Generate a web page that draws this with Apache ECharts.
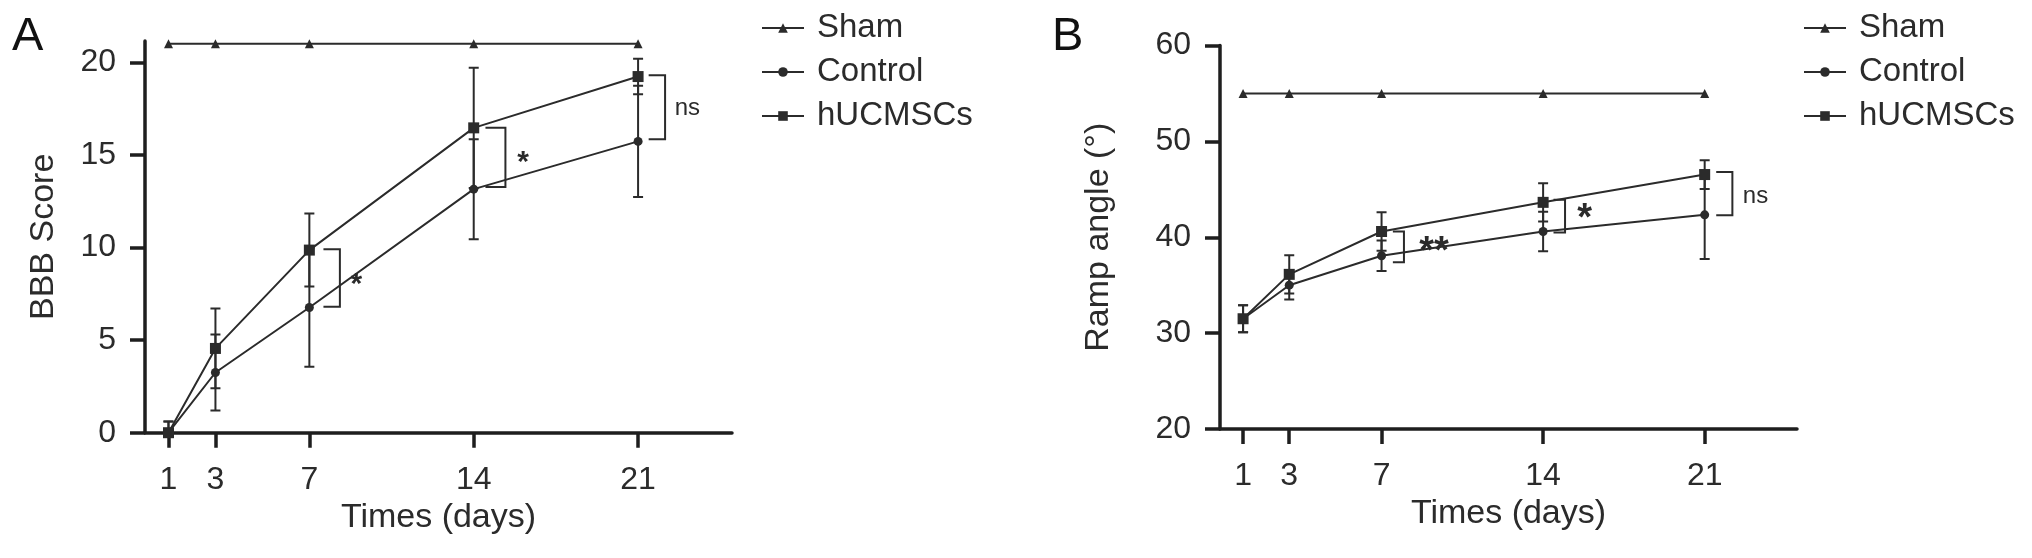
<!DOCTYPE html>
<html>
<head>
<meta charset="utf-8">
<script src="https://cdn.jsdelivr.net/npm/echarts@6/dist/echarts.min.js"></script>
<style>
html,body{margin:0;padding:0;background:#fff;}
#chart{width:2032px;height:558px;}
</style>
</head>
<body>
<div id="chart"></div>
<script>
// ---------- data ----------
const days = [1, 3, 7, 14, 21];
const seriesNames = ['Sham', 'Control', 'hUCMSCs'];

// Panel A: BBB score
const bbbSham = [21, 21, 21, 21, 21];
const bbbControl = [0, 3.25, 6.76, 13.15, 15.73];
const bbbControlErr = [0.6, 2.05, 3.2, 2.7, 3.0];
const bbbHuc = [0, 4.55, 9.86, 16.46, 19.23];
const bbbHucErr = [0.6, 2.15, 1.97, 3.25, 0.96];
const bbbTicks = [0, 5, 10, 15, 20];
// significance brackets: [xStart, xEnd, yTop, yBottom]
const bbbBrackets = [[7.6, 8.3, 9.9, 6.8], [14.5, 15.35, 16.46, 13.26], [21.45, 22.15, 19.3, 15.85]];
// labels: [x, y, text]
const bbbSigLabels = [[9.0, 8.0, '*'], [16.1, 14.6, '*'], [23.1, 17.5, 'ns']];

// Panel B: ramp angle
const rampSham = [55, 55, 55, 55, 55];
const rampControl = [31.5, 35.0, 38.07, 40.6, 42.34];
const rampControlErr = [1.4, 1.5, 1.6, 2.05, 4.6];
const rampHuc = [31.5, 36.13, 40.6, 43.64, 46.54];
const rampHucErr = [1.4, 2.0, 2.0, 2.0, 1.5];
const rampTicks = [20, 30, 40, 50, 60];
const rampBrackets = [[7.49, 7.97, 40.6, 37.4], [14.45, 14.95, 43.9, 40.5], [21.5, 22.2, 46.8, 42.3]];
const rampSigLabels = [[9.27, 38.4, '**'], [15.8, 41.8, '*'], [23.2, 44.3, 'ns']];

// ---------- helpers ----------
const INK = '#2b2b2b';
const AXIS = '#1e1e1e';
const FONT = 'Liberation Sans, Arial, Helvetica, sans-serif';

function pairs(vals) { return days.map((d, i) => [d, vals[i]]); }
function errPairs(vals, errs) { return days.map((d, i) => [d, vals[i], errs[i]]); }

function errRender(params, api) {
  const x = api.value(0), y = api.value(1), e = api.value(2);
  const top = api.coord([x, y + e]);
  const bot = api.coord([x, y - e]);
  const hw = 5;
  const st = { stroke: INK, lineWidth: 2 };
  return {
    type: 'group',
    children: [
      { type: 'line', shape: { x1: top[0], y1: top[1], x2: bot[0], y2: bot[1] }, style: st },
      { type: 'line', shape: { x1: top[0] - hw, y1: top[1], x2: top[0] + hw, y2: top[1] }, style: st },
      { type: 'line', shape: { x1: bot[0] - hw, y1: bot[1], x2: bot[0] + hw, y2: bot[1] }, style: st }
    ]
  };
}

function bracketRender(params, api) {
  const x1 = api.value(0), x2 = api.value(1), yt = api.value(2), yb = api.value(3);
  const a = api.coord([x1, yt]), b = api.coord([x2, yt]), c = api.coord([x2, yb]), d = api.coord([x1, yb]);
  return {
    type: 'polyline',
    shape: { points: [a, b, c, d] },
    style: { stroke: INK, lineWidth: 2, fill: null }
  };
}

function makeLabelRender(labels, starSize) {
  return function (params, api) {
    const item = labels[params.dataIndex];
    const p = api.coord([item[0], item[1]]);
    const isStar = item[2].indexOf('*') >= 0;
    return {
      type: 'text',
      x: p[0], y: p[1],
      style: {
        text: item[2],
        fontFamily: FONT,
        fontSize: isStar ? starSize : 24,
        fontWeight: isStar ? 'bold' : 'normal',
        fill: INK,
        align: 'center',
        verticalAlign: 'middle'
      }
    };
  };
}

function lineSeries(name, idx, vals, symbol, size) {
  return {
    name: name, type: 'line', xAxisIndex: idx, yAxisIndex: idx,
    data: pairs(vals), symbol: symbol, symbolSize: size, showSymbol: true,
    lineStyle: { color: INK, width: 2 },
    itemStyle: { color: INK },
    z: 3, animation: false
  };
}

function errSeries(idx, vals, errs) {
  return {
    type: 'custom', xAxisIndex: idx, yAxisIndex: idx,
    data: errPairs(vals, errs), renderItem: errRender, clip: true,
    z: 2, animation: false, silent: true
  };
}

function xAxisFor(idx) {
  return {
    gridIndex: idx, type: 'value', min: 0, max: 25,
    axisLine: { show: true, onZero: false, lineStyle: { color: AXIS, width: 3.5 } },
    axisTick: { show: true, customValues: days, length: 15, lineStyle: { color: AXIS, width: 3.5 } },
    axisLabel: { customValues: days, margin: 31, fontSize: 32, color: INK, fontFamily: FONT },
    splitLine: { show: false },
    name: 'Times (days)', nameLocation: 'middle', nameGap: 68,
    nameTextStyle: { fontSize: 34, color: INK, fontFamily: FONT }
  };
}

function yAxisFor(idx, min, max, ticks, name, gap) {
  return {
    gridIndex: idx, type: 'value', min: min, max: max,
    axisLine: { show: true, onZero: false, lineStyle: { color: AXIS, width: 3.5 } },
    axisTick: { show: true, customValues: ticks, length: 15, lineStyle: { color: AXIS, width: 3.5 } },
    axisLabel: { customValues: ticks, margin: 29, fontSize: 32, color: INK, fontFamily: FONT },
    splitLine: { show: false },
    name: name, nameLocation: 'middle', nameGap: gap, nameRotate: 90,
    nameTextStyle: { fontSize: 34, color: INK, fontFamily: FONT }
  };
}

function legendFor(left) {
  return {
    orient: 'vertical', left: left, top: 11, padding: 0,
    itemWidth: 42, itemHeight: 12, itemGap: 10,
    data: seriesNames,
    textStyle: { fontSize: 33, color: INK, fontFamily: FONT, lineHeight: 34, padding: [0, 0, 0, 8] }
  };
}

const chart = echarts.init(document.getElementById('chart'), null, { renderer: 'canvas' });
chart.setOption({
  backgroundColor: '#fff',
  animation: false,
  textStyle: { fontFamily: FONT },
  grid: [
    { left: 145, top: 41, width: 587, height: 391.7 },
    { left: 1220, top: 45.5, width: 577, height: 383.5 }
  ],
  xAxis: [xAxisFor(0), xAxisFor(1)],
  yAxis: [
    yAxisFor(0, 0, 21.15, bbbTicks, 'BBB Score', 84),
    yAxisFor(1, 20, 60, rampTicks, 'Ramp angle (°)', 104)
  ],
  legend: [legendFor(761), legendFor(1803)],
  graphic: [
    { type: 'text', left: 12, top: 14, style: { text: 'A', fontSize: 47, fill: '#111', fontFamily: FONT } },
    { type: 'text', left: 1052, top: 14, style: { text: 'B', fontSize: 47, fill: '#111', fontFamily: FONT } }
  ],
  series: [
    errSeries(0, bbbControl, bbbControlErr),
    errSeries(0, bbbHuc, bbbHucErr),
    lineSeries('Sham', 0, bbbSham, 'triangle', 9),
    lineSeries('Control', 0, bbbControl, 'circle', 9),
    lineSeries('hUCMSCs', 0, bbbHuc, 'rect', 11),
    { type: 'custom', xAxisIndex: 0, yAxisIndex: 0, data: bbbBrackets, renderItem: bracketRender, clip: false, silent: true, animation: false },
    { type: 'custom', xAxisIndex: 0, yAxisIndex: 0, data: bbbSigLabels.map(l => [l[0], l[1]]), renderItem: makeLabelRender(bbbSigLabels, 30), clip: false, silent: true, animation: false },

    errSeries(1, rampControl, rampControlErr),
    errSeries(1, rampHuc, rampHucErr),
    lineSeries('Sham', 1, rampSham, 'triangle', 9),
    lineSeries('Control', 1, rampControl, 'circle', 9),
    lineSeries('hUCMSCs', 1, rampHuc, 'rect', 11),
    { type: 'custom', xAxisIndex: 1, yAxisIndex: 1, data: rampBrackets, renderItem: bracketRender, clip: false, silent: true, animation: false },
    { type: 'custom', xAxisIndex: 1, yAxisIndex: 1, data: rampSigLabels.map(l => [l[0], l[1]]), renderItem: makeLabelRender(rampSigLabels, 38), clip: false, silent: true, animation: false }
  ]
});
</script>
</body>
</html>
